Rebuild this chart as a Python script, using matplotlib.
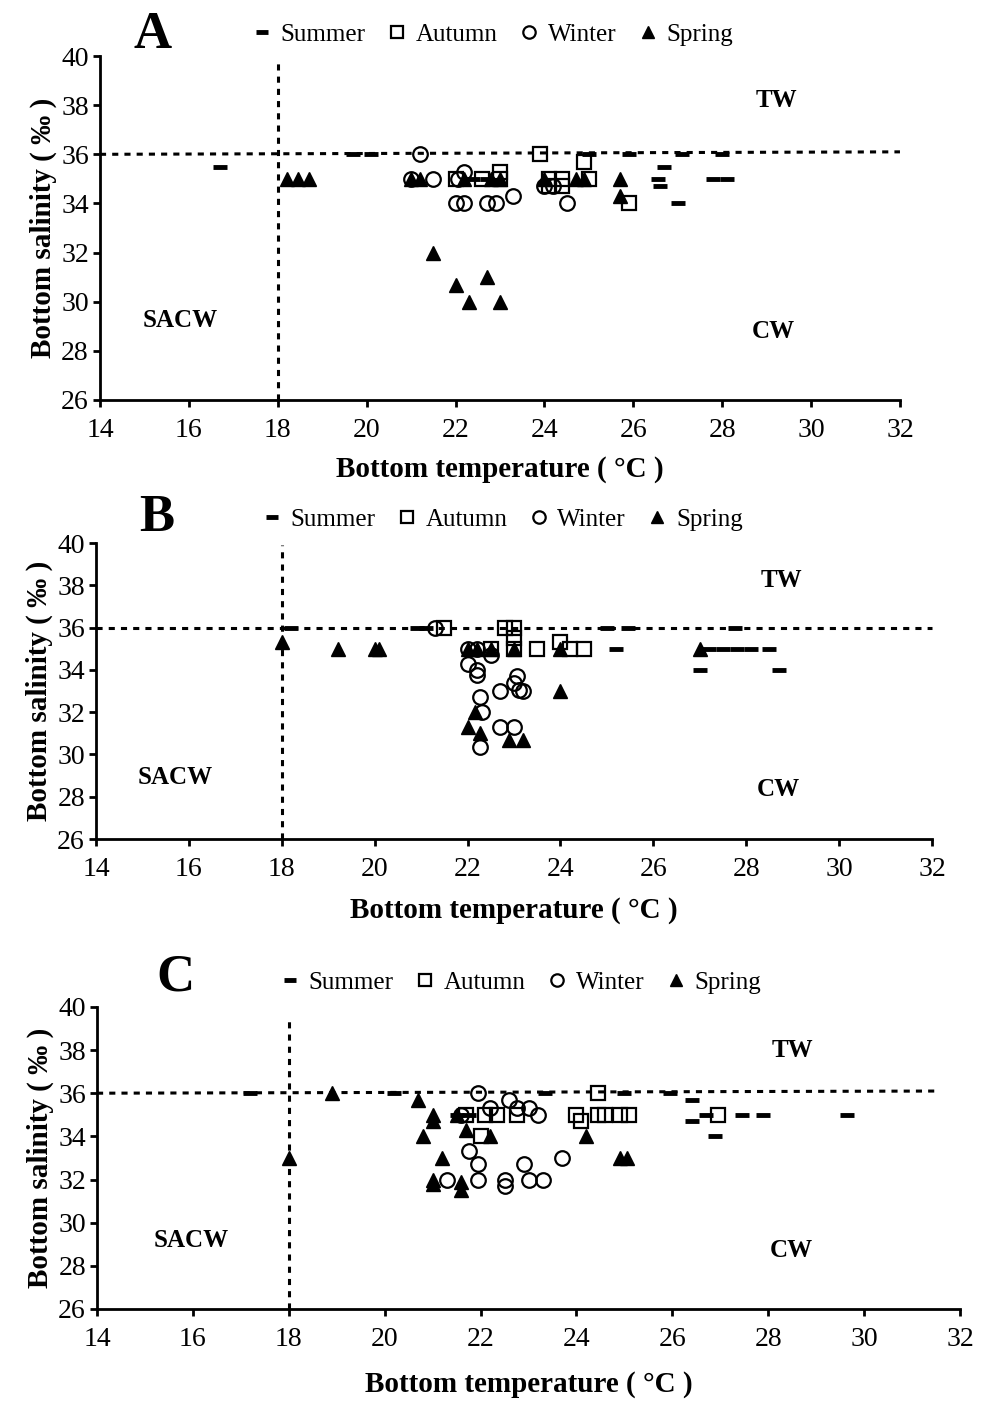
import matplotlib
matplotlib.use("Agg")
import matplotlib.pyplot as plt
from matplotlib.lines import Line2D

plt.rcParams["font.family"] = ["Liberation Serif", "DejaVu Serif"]

# ── data: (bottom temperature, bottom salinity) per season ──────────────
# Panel A
a_sum_t = [16.7, 19.7, 20.1, 22.4, 22.7, 25.0, 25.9, 26.7, 26.55, 26.6, 27.1, 28.0, 27.8, 28.1, 27.0]
a_sum_s = [35.5, 36.0, 36.0, 35.0, 35.0, 36.0, 36.0, 35.5, 35.0, 34.7, 36.0, 36.0, 35.0, 35.0, 34.0]
a_aut_t = [23.9, 24.9, 23.0, 22.0, 22.6, 23.0, 24.1, 24.4, 25.0, 24.1, 24.4, 25.9]
a_aut_s = [36.0, 35.7, 35.3, 35.0, 35.0, 35.0, 35.0, 35.0, 35.0, 34.7, 34.7, 34.0]
a_win_t = [21.2, 21.0, 21.5, 22.05, 22.2, 22.0, 22.2, 22.7, 22.9, 23.3, 24.0, 24.2, 24.5]
a_win_s = [36.0, 35.0, 35.0, 35.0, 35.3, 34.0, 34.0, 34.0, 34.0, 34.3, 34.7, 34.7, 34.0]
a_spr_t = [18.2, 18.45, 18.7, 21.0, 21.2, 22.2, 22.8, 23.0, 24.0, 24.7, 24.9, 25.7, 25.7,
           21.5, 22.0, 22.3, 22.7, 23.0]
a_spr_s = [35.0, 35.0, 35.0, 35.0, 35.0, 35.0, 35.0, 35.0, 35.0, 35.0, 35.0, 35.0, 34.3,
           32.0, 30.7, 30.0, 31.0, 30.0]

# Panel B
b_sum_t = [18.2, 20.9, 21.1, 25.0, 25.45, 27.75, 25.2, 27.2, 27.5, 27.8, 28.1, 28.5, 27.0, 28.7]
b_sum_s = [36.0, 36.0, 36.0, 36.0, 36.0, 36.0, 35.0, 35.0, 35.0, 35.0, 35.0, 35.0, 34.0, 34.0]
b_aut_t = [21.5, 22.8, 23.0, 23.0, 23.0, 22.5, 23.5, 24.0, 24.2, 24.5]
b_aut_s = [36.0, 36.0, 36.0, 35.5, 35.0, 35.0, 35.0, 35.3, 35.0, 35.0]
b_win_t = [21.3, 22.0, 22.2, 22.5, 22.0, 22.2, 22.2, 23.07, 23.0, 22.7, 23.1, 23.2,
           22.27, 22.3, 22.7, 23.0, 22.27]
b_win_s = [36.0, 35.0, 35.0, 34.7, 34.3, 34.0, 33.75, 33.7, 33.4, 33.0, 33.05, 33.0,
           32.7, 32.0, 31.3, 31.3, 30.35]
b_spr_t = [18.0, 19.2, 20.0, 20.1, 22.0, 22.2, 22.5, 23.0, 24.0, 27.0,
           24.0, 22.15, 22.0, 22.27, 22.9, 23.2]
b_spr_s = [35.3, 35.0, 35.0, 35.0, 35.0, 35.0, 35.0, 35.0, 35.0, 35.0,
           33.0, 32.0, 31.3, 31.0, 30.7, 30.7]

# Panel C
c_sum_t = [17.2, 20.2, 21.5, 21.75, 23.35, 25.0, 25.95, 26.4, 26.4, 26.7, 26.9, 27.45, 27.9, 29.65]
c_sum_s = [36.0, 36.0, 35.0, 35.0, 36.0, 36.0, 36.0, 35.7, 34.7, 35.0, 34.0, 35.0, 35.0, 35.0]
c_aut_t = [21.7, 22.1, 22.35, 22.76, 22.0, 24.45, 24.0, 24.1, 24.45, 24.6, 24.9, 25.1, 26.95]
c_aut_s = [35.0, 35.0, 35.0, 35.0, 34.0, 36.0, 35.0, 34.7, 35.0, 35.0, 35.0, 35.0, 35.0]
c_win_t = [21.95, 22.6, 22.2, 22.75, 23.0, 23.2, 21.6, 21.75, 21.95, 21.95, 21.3,
           22.5, 22.5, 22.9, 23.0, 23.3, 23.7]
c_win_s = [36.0, 35.7, 35.3, 35.3, 35.3, 35.0, 35.0, 33.3, 32.7, 32.0, 32.0,
           32.0, 31.7, 32.7, 32.0, 32.0, 33.0]
c_spr_t = [18.0, 18.9, 20.7, 21.0, 21.0, 20.8, 21.2, 21.0, 21.0, 21.6, 21.6,
           21.7, 22.2, 21.5, 24.2, 24.9, 25.05]
c_spr_s = [33.0, 36.0, 35.7, 35.0, 34.7, 34.0, 33.0, 32.0, 31.8, 31.9, 31.5,
           34.3, 34.0, 35.0, 34.0, 33.0, 33.0]

seasons = ["Summer", "Autumn", "Winter", "Spring"]
panels = [
    ("A", [(a_sum_t, a_sum_s), (a_aut_t, a_aut_s), (a_win_t, a_win_s), (a_spr_t, a_spr_s)]),
    ("B", [(b_sum_t, b_sum_s), (b_aut_t, b_aut_s), (b_win_t, b_win_s), (b_spr_t, b_spr_s)]),
    ("C", [(c_sum_t, c_sum_s), (c_aut_t, c_aut_s), (c_win_t, c_win_s), (c_spr_t, c_spr_s)]),
]

# ── layout (figure fractions) ───────────────────────────────────────────
boxes = [
    [0.1016, 0.7145, 0.8130, 0.2455],
    [0.0976, 0.4011, 0.8496, 0.2113],
    [0.0986, 0.0657, 0.8770, 0.2156],
]
hline_end = [(32.0, 36.1), (32.0, 36.0), (31.5, 36.1)]
vline_top = [39.85, 39.9, 39.6]
labels_xy = [
    {"TW": (29.23, 38.2), "SACW": (15.8, 29.25), "CW": (29.15, 28.8)},
    {"TW": (28.75, 38.25), "SACW": (15.7, 28.9), "CW": (28.7, 28.35)},
    {"TW": (28.5, 38.0), "SACW": (15.96, 29.15), "CW": (28.48, 28.7)},
]
letter_xy = [(0.155, 0.975), (0.159, 0.630), (0.178, 0.302)]
legend_anchor = [(0.49, 1.063), (0.485, 1.078), (0.49, 1.08)]
xlabelpad = [9, 11, 14]

styles = [
    dict(marker="_", ms=10, mew=3.5, mec="black", ls="none"),
    dict(marker="s", ms=10, mew=1.6, mec="black", mfc="none", ls="none"),
    dict(marker="o", ms=10.5, mew=1.6, mec="black", mfc="none", ls="none"),
    dict(marker="^", ms=10.5, mew=1.0, mec="black", mfc="black", ls="none"),
]

fig = plt.figure(figsize=(9.84, 14.01), dpi=100)

for i, (letter, series) in enumerate(panels):
    ax = fig.add_axes(boxes[i])
    ax.set_xlim(14, 32)
    ax.set_ylim(26, 40)
    ax.set_xticks(range(14, 33, 2))
    ax.set_yticks(range(26, 41, 2))
    for sp in ["top", "right"]:
        ax.spines[sp].set_visible(False)
    for sp in ["left", "bottom"]:
        ax.spines[sp].set_linewidth(2)
    ax.tick_params(direction="out", length=5, width=2, labelsize=20, pad=3)
    ax.tick_params(axis="x", pad=8)

    # water mass boundaries
    xe, ye = hline_end[i]
    ax.plot([14, xe], [36, ye], color="black", lw=2.2, ls=(0, (2, 2)), clip_on=False)
    ax.plot([18, 18], [26, vline_top[i]], color="black", lw=2.2, ls=(0, (2, 2)), clip_on=False)

    handles = []
    for (t, s), st, name in zip(series, styles, seasons):
        ax.plot(t, s, color="black", clip_on=False, **st)
        handles.append(Line2D([], [], color="black", label=name,
                              **{**st, "ms": st["ms"] * 0.85}))

    for txt, (tx, ty) in labels_xy[i].items():
        ax.text(tx, ty, txt, fontsize=18, fontweight="bold", ha="center", va="center")

    ax.set_xlabel("Bottom temperature ( °C )", fontsize=21, fontweight="bold",
                  labelpad=xlabelpad[i])
    ax.set_ylabel("Bottom salinity ( ‰ )", fontsize=21, fontweight="bold", labelpad=3)

    ax.legend(handles=handles, ncol=4, frameon=False, fontsize=18,
              loc="center", bbox_to_anchor=legend_anchor[i],
              handlelength=0.9, handletextpad=0.3, columnspacing=0.8,
              borderaxespad=0)

    fig.text(letter_xy[i][0], letter_xy[i][1], letter, fontsize=38,
             fontweight="bold", ha="center", va="center")

fig.savefig("out.png", dpi=100)
